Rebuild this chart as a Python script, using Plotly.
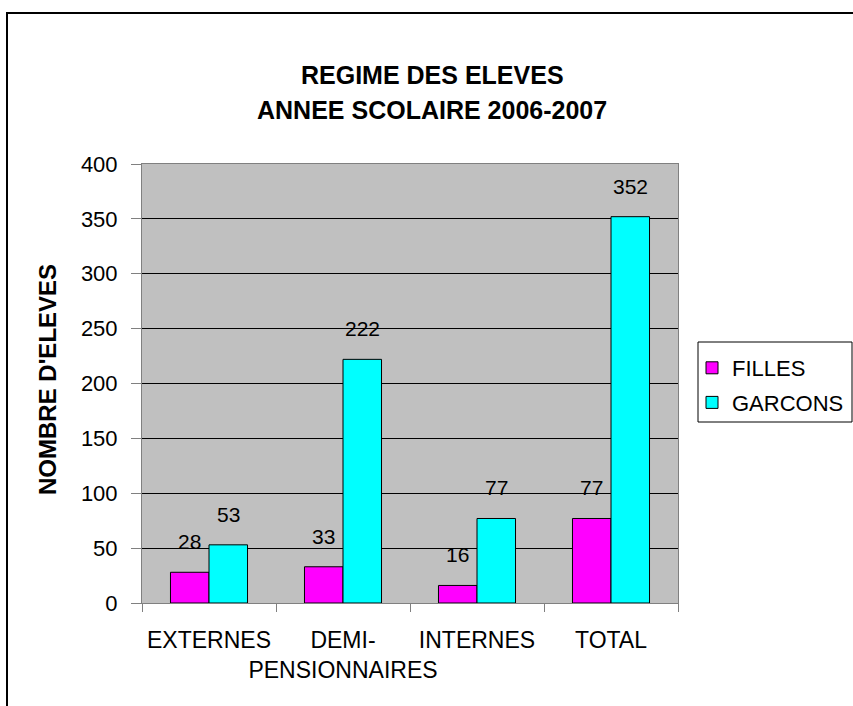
import plotly.graph_objects as go

categories = ["EXTERNES", "DEMI-<br>PENSIONNAIRES", "INTERNES", "TOTAL"]
filles = [28, 33, 16, 77]
garcons = [53, 222, 77, 352]
series_names = ["FILLES", "GARCONS"]
y_ticks = [0, 50, 100, 150, 200, 250, 300, 350, 400]

FONT = "Arial, 'Liberation Sans', sans-serif"
W, H = 853, 706
L, R, T, B = 142, 175, 164, 103
pw, ph = W - L - R, H - T - B
BARGAP = 0.425

fig = go.Figure()
fig.add_trace(go.Bar(x=categories, y=filles, name=series_names[0], legendgroup="f",
                     marker=dict(color="#FF00FF", line=dict(color="black", width=1))))
fig.add_trace(go.Bar(x=categories, y=garcons, name=series_names[1], legendgroup="g",
                     marker=dict(color="#00FFFF", line=dict(color="black", width=1))))


def px_x(p):
    return (p - L) / pw


def px_y(p):
    return (H - B - p) / ph


annotations = []
bw = pw / len(categories) * (1 - BARGAP) / 2
for vals, sh in ((filles, -bw / 2), (garcons, bw / 2)):
    for c, v in zip(categories, vals):
        annotations.append(dict(x=c, y=v, xref="x", yref="y", text=str(v), showarrow=False,
                                xshift=sh, yshift=17, yanchor="bottom",
                                font=dict(family=FONT, size=21, color="black")))

annotations.append(dict(x=px_x(432), y=px_y(75), xref="paper", yref="paper",
                        text="<b>REGIME DES ELEVES</b>", showarrow=False, yanchor="middle",
                        font=dict(family=FONT, size=25, color="black")))
annotations.append(dict(x=px_x(432), y=px_y(110), xref="paper", yref="paper",
                        text="<b>ANNEE SCOLAIRE 2006-2007</b>", showarrow=False, yanchor="middle",
                        font=dict(family=FONT, size=25, color="black")))
annotations.append(dict(x=px_x(47), y=px_y(380), xref="paper", yref="paper",
                        text="<b>NOMBRE D'ELEVES</b>", showarrow=False, textangle=-90,
                        xanchor="center", yanchor="middle",
                        font=dict(family=FONT, size=24, color="black")))

fig.update_layout(
    width=W, height=H,
    margin=dict(l=L, r=R, t=T, b=B, autoexpand=False),
    paper_bgcolor="white", plot_bgcolor="#C0C0C0",
    barmode="group", bargap=BARGAP, bargroupgap=0,
    font=dict(family=FONT, size=22, color="black"),
    showlegend=True,
    legend=dict(x=px_x(692), y=px_y(347), xanchor="left", yanchor="top",
                borderwidth=0, bgcolor="rgba(0,0,0,0)",
                font=dict(family=FONT, size=22, color="black"),
                itemclick=False, itemdoubleclick=False,
                traceorder="grouped", tracegroupgap=3),
    annotations=annotations,
    shapes=[
        dict(type="rect", xref="paper", yref="paper",
             x0=px_x(7), x1=px_x(870), y0=px_y(13), y1=px_y(730),
             line=dict(color="black", width=2), fillcolor="rgba(0,0,0,0)", layer="below"),
        dict(type="rect", xref="paper", yref="paper",
             x0=px_x(698), x1=px_x(852), y0=px_y(342), y1=px_y(422),
             line=dict(color="black", width=1), fillcolor="white", layer="below"),
    ],
)
fig.update_xaxes(type="category", showline=True, linecolor="#808080", linewidth=1, mirror=True,
                 ticks="outside", tickson="boundaries", ticklen=8, tickcolor="#808080",
                 showgrid=False, tickangle=0,
                 tickfont=dict(family=FONT, size=23, color="black"),
                 ticklabelstandoff=16)
fig.update_yaxes(range=[0, 400], tickvals=y_ticks, showline=True, linecolor="#808080", linewidth=1,
                 mirror=True, ticks="outside", ticklen=10, tickcolor="#808080",
                 showgrid=True, gridcolor="black", gridwidth=1, zeroline=False,
                 tickfont=dict(family=FONT, size=22, color="black"), ticklabelstandoff=9)

fig.write_html("out.html", config={"displayModeBar": False},
               post_script="document.body.style.margin='0';")
